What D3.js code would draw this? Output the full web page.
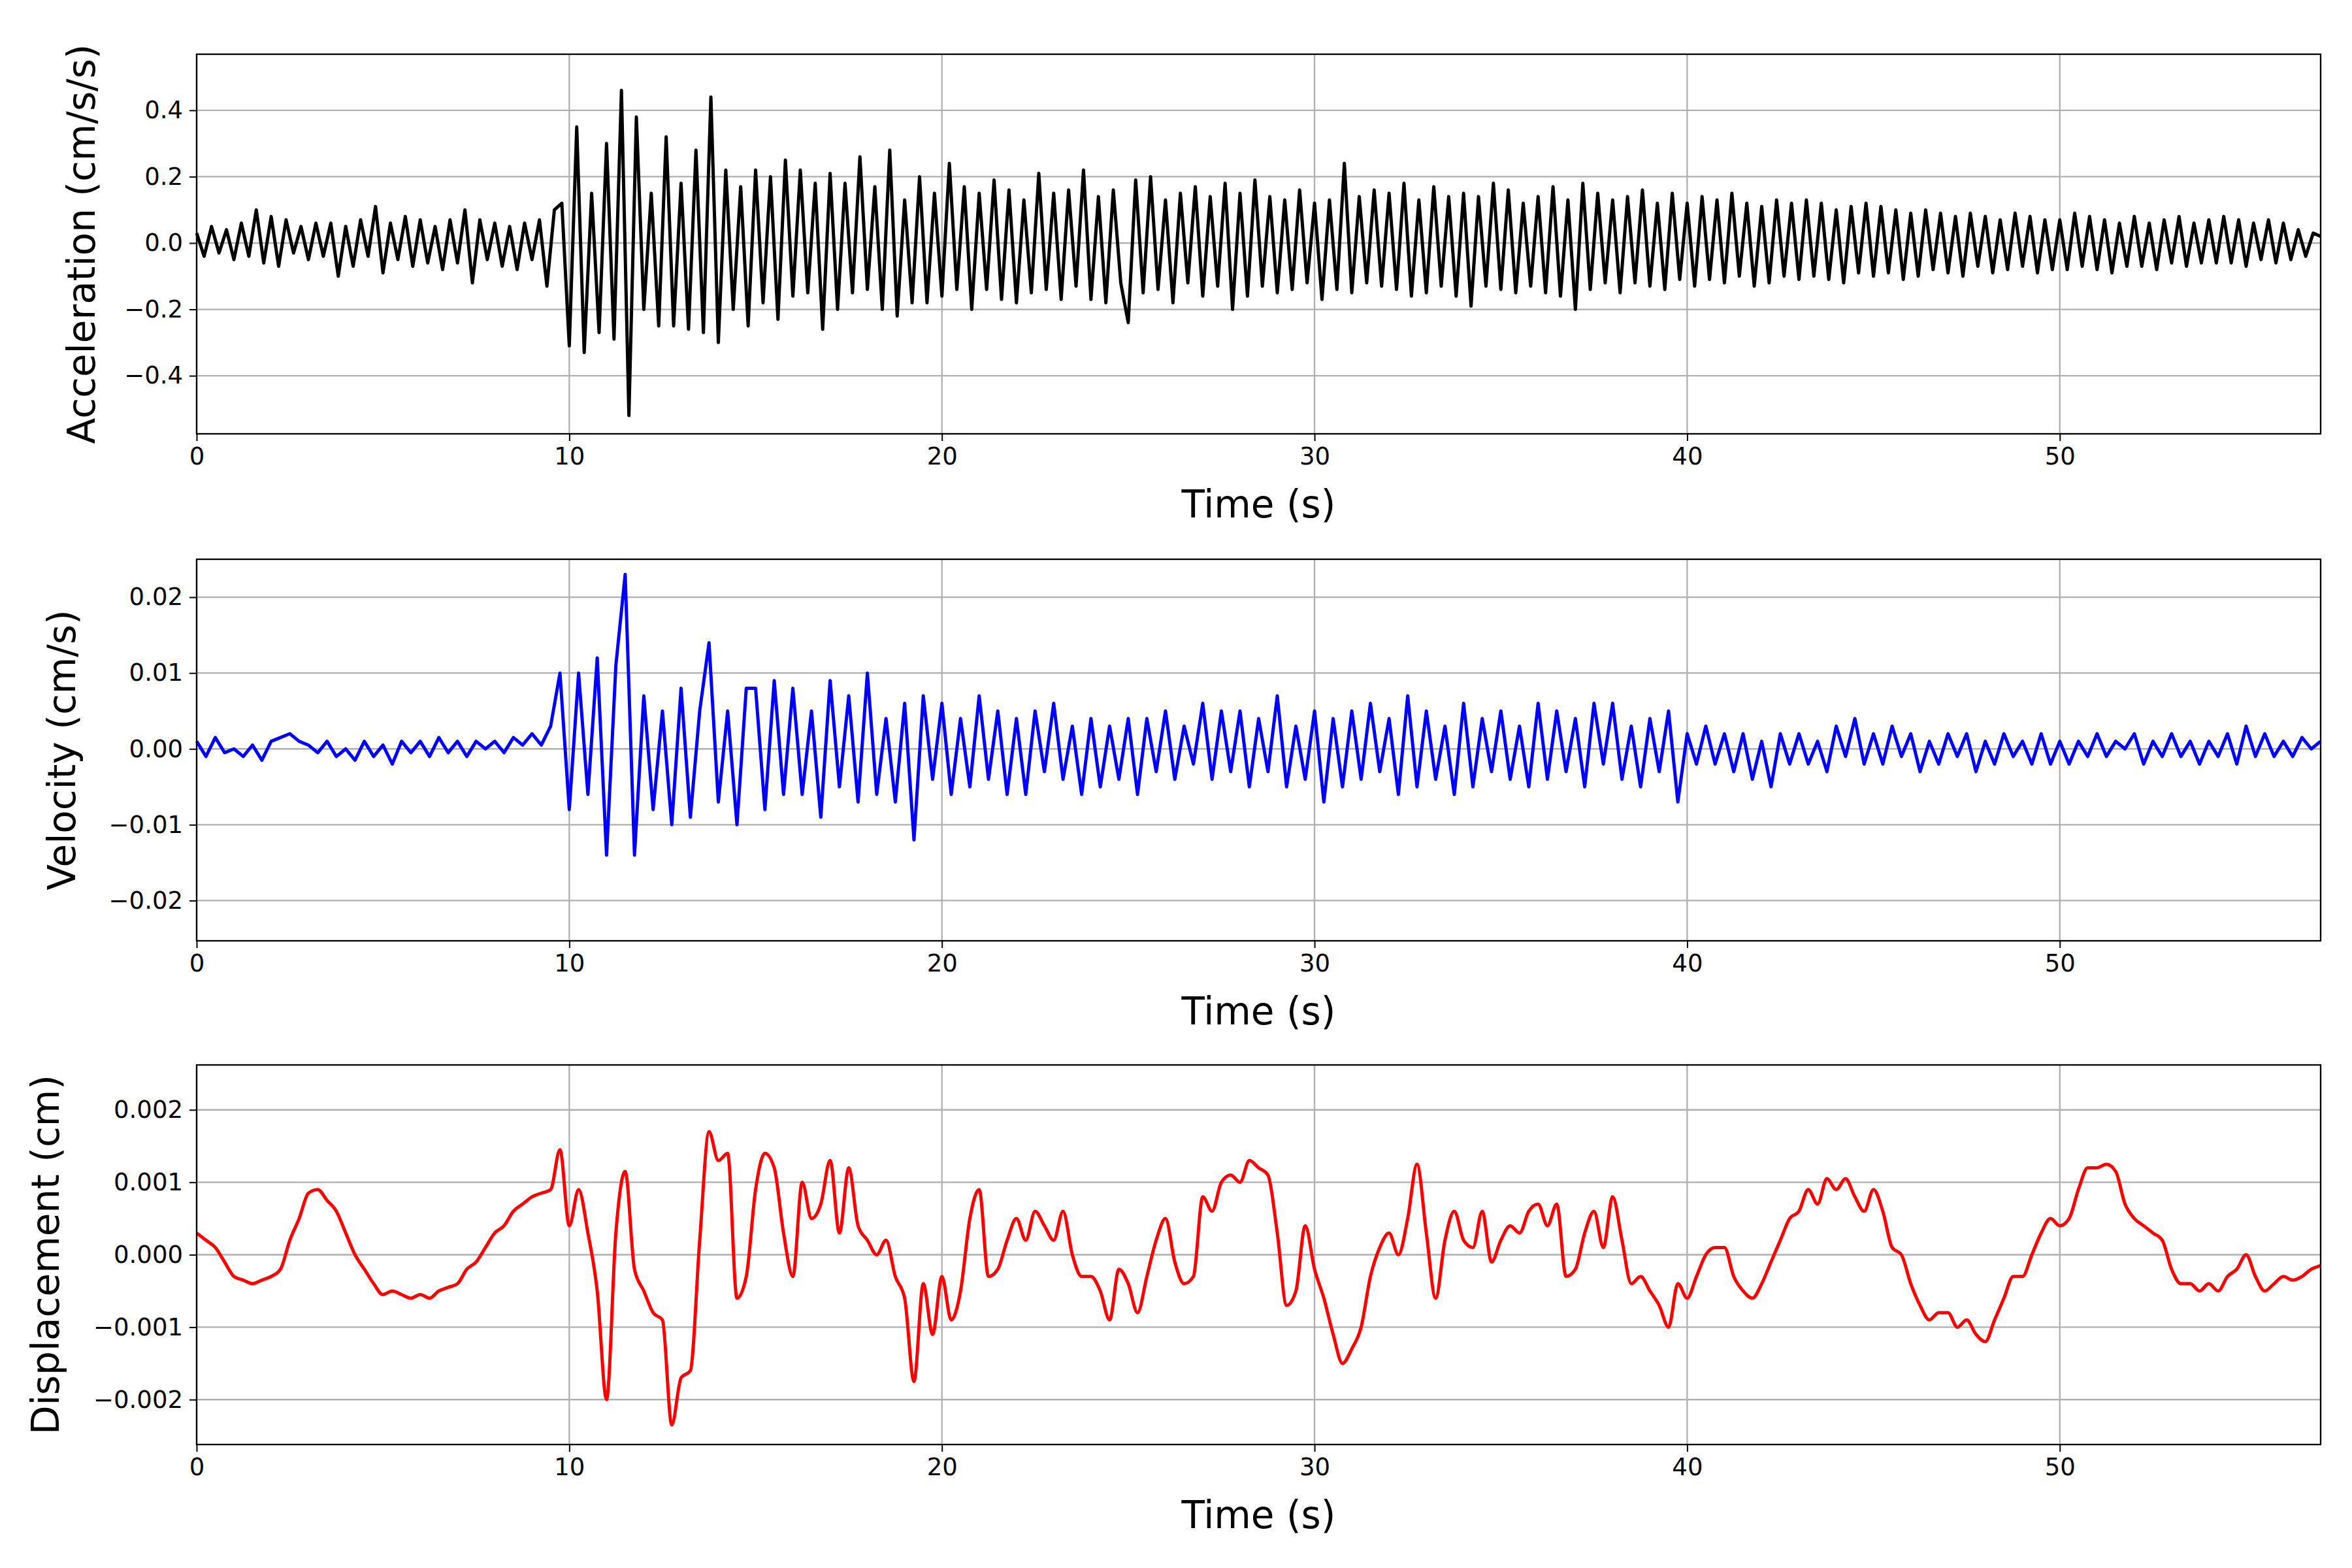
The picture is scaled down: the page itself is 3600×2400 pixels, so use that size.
<!DOCTYPE html>
<html>
<head>
<meta charset="utf-8">
<script src="https://cdn.jsdelivr.net/npm/d3@7"></script>
<style>
  body { margin: 0; background: #fff; }
  text { font-family: "DejaVu Sans", sans-serif; }
</style>
</head>
<body>
<svg id="chart" width="3600" height="2400"></svg>
<script>
// acceleration, cm/s/s, sampled every 0.2 s
var accStep = 0.2;
var accel = [
  0.03,-0.04,0.05,-0.03,0.04, -0.05,0.06,-0.04,0.1,-0.06, 0.08,-0.07,0.07,-0.03,0.05,
  -0.05,0.06,-0.04,0.06,-0.1, 0.05,-0.07,0.07,-0.04,0.11, -0.09,0.06,-0.05,0.08,-0.07,
  0.07,-0.06,0.05,-0.08,0.07, -0.06,0.1,-0.12,0.07,-0.05, 0.06,-0.07,0.05,-0.08,0.06,
  -0.05,0.07,-0.13,0.1,0.12, -0.31,0.35,-0.33,0.15,-0.27, 0.3,-0.29,0.46,-0.52,0.38,
  -0.2,0.15,-0.25,0.32,-0.25, 0.18,-0.26,0.28,-0.27,0.44, -0.3,0.22,-0.2,0.17,-0.25,
  0.22,-0.18,0.2,-0.23,0.25, -0.16,0.22,-0.15,0.18,-0.26, 0.21,-0.2,0.18,-0.15,0.26,
  -0.14,0.17,-0.2,0.28,-0.22, 0.13,-0.18,0.2,-0.18,0.15, -0.16,0.24,-0.14,0.17,-0.2,
  0.15,-0.14,0.19,-0.17,0.16, -0.18,0.13,-0.15,0.21,-0.14, 0.15,-0.17,0.16,-0.13,0.22,
  -0.17,0.14,-0.18,0.16,-0.12, -0.24,0.19,-0.15,0.2,-0.14, 0.13,-0.18,0.15,-0.12,0.17,
  -0.16,0.14,-0.13,0.18,-0.2, 0.15,-0.16,0.19,-0.13,0.14, -0.15,0.13,-0.14,0.16,-0.12,
  0.12,-0.17,0.13,-0.14,0.24, -0.15,0.14,-0.12,0.16,-0.13, 0.15,-0.14,0.18,-0.16,0.13,
  -0.15,0.17,-0.13,0.14,-0.16, 0.15,-0.19,0.14,-0.13,0.18, -0.14,0.16,-0.15,0.12,-0.13,
  0.14,-0.15,0.17,-0.16,0.13, -0.2,0.18,-0.14,0.15,-0.12, 0.13,-0.15,0.14,-0.12,0.16,
  -0.13,0.12,-0.14,0.15,-0.11, 0.12,-0.13,0.14,-0.11,0.13, -0.12,0.15,-0.1,0.12,-0.13,
  0.11,-0.12,0.13,-0.1,0.12, -0.11,0.13,-0.1,0.12,-0.11, 0.1,-0.12,0.11,-0.09,0.12,
  -0.1,0.11,-0.09,0.1,-0.11, 0.09,-0.1,0.1,-0.08,0.09, -0.09,0.08,-0.1,0.09,-0.07,
  0.08,-0.09,0.07,-0.08,0.09, -0.07,0.08,-0.09,0.07,-0.08, 0.07,-0.08,0.09,-0.07,0.08,
  -0.08,0.07,-0.09,0.06,-0.07, 0.08,-0.07,0.06,-0.08,0.07, -0.06,0.08,-0.07,0.06,-0.06,
  0.07,-0.06,0.08,-0.06,0.07, -0.07,0.06,-0.05,0.07,-0.06, 0.06,-0.05,0.04,-0.04,0.03,
  0.02
];

// velocity, cm/s, every 0.25 s
var velStep = 0.25;
var veloc = [
  0.001,-0.001,0.0015,-0.0005, 0,-0.001,0.0005,-0.0015, 0.001,0.0015,0.002,0.001,
  0.0005,-0.0005,0.001,-0.001, 0,-0.0015,0.001,-0.001, 0.0005,-0.002,0.001,-0.0005,
  0.001,-0.001,0.0015,-0.0005, 0.001,-0.001,0.001,0, 0.001,-0.0005,0.0015,0.0005,
  0.002,0.0005,0.003,0.01, -0.008,0.01,-0.006,0.012, -0.014,0.011,0.023,-0.014,
  0.007,-0.008,0.005,-0.01, 0.008,-0.009,0.005,0.014, -0.007,0.005,-0.01,0.008,
  0.008,-0.008,0.009,-0.006, 0.008,-0.006,0.005,-0.009, 0.009,-0.005,0.007,-0.007,
  0.01,-0.006,0.004,-0.007, 0.006,-0.012,0.007,-0.004, 0.006,-0.006,0.004,-0.005,
  0.007,-0.004,0.005,-0.006, 0.004,-0.006,0.005,-0.003, 0.006,-0.004,0.003,-0.006,
  0.004,-0.005,0.003,-0.004, 0.004,-0.006,0.004,-0.003, 0.005,-0.004,0.003,-0.002,
  0.006,-0.004,0.005,-0.003, 0.005,-0.005,0.004,-0.003, 0.007,-0.005,0.003,-0.004,
  0.005,-0.007,0.004,-0.005, 0.005,-0.004,0.006,-0.003, 0.004,-0.006,0.007,-0.005,
  0.005,-0.004,0.003,-0.006, 0.006,-0.005,0.004,-0.003, 0.005,-0.004,0.003,-0.005,
  0.006,-0.004,0.005,-0.003, 0.004,-0.005,0.006,-0.002, 0.006,-0.004,0.003,-0.005,
  0.004,-0.003,0.005,-0.007, 0.002,-0.002,0.003,-0.002, 0.002,-0.003,0.002,-0.004,
  0.001,-0.005,0.002,-0.002, 0.002,-0.002,0.001,-0.003, 0.003,-0.001,0.004,-0.002,
  0.002,-0.002,0.003,-0.001, 0.002,-0.003,0.001,-0.002, 0.002,-0.001,0.002,-0.003,
  0.001,-0.002,0.002,-0.001, 0.001,-0.002,0.002,-0.002, 0.001,-0.002,0.001,-0.001,
  0.002,-0.001,0.001,0, 0.002,-0.002,0.001,-0.001, 0.002,-0.001,0.001,-0.002,
  0.001,-0.001,0.002,-0.002, 0.003,-0.001,0.002,-0.001, 0.001,-0.001,0.0015,0,
  0.001
];

// displacement, in units of 0.001 cm, every 0.25 s
var dispStep = 0.25;
var dispMilli = [
  0.3,0.2,0.1,-0.1, -0.3,-0.35,-0.4,-0.35, -0.3,-0.2,0.2,0.5, 0.85,0.9,0.75,0.6,
  0.3,0,-0.2,-0.4, -0.55,-0.5,-0.55,-0.6, -0.55,-0.6,-0.5,-0.45, -0.4,-0.2,-0.1,0.1,
  0.3,0.4,0.6,0.7, 0.8,0.85,0.9,1.45, 0.4,0.9,0.3,-0.5, -2.0,0.3,1.15,-0.2,
  -0.5,-0.8,-0.9,-2.35, -1.7,-1.6,0.2,1.7, 1.3,1.4,-0.6,-0.3, 0.9,1.4,1.2,0.3,
  -0.3,1.0,0.5,0.7, 1.3,0.3,1.2,0.4, 0.2,0.0,0.2,-0.3, -0.6,-1.75,-0.4,-1.1,
  -0.3,-0.9,-0.5,0.5, 0.9,-0.3,-0.2,0.2, 0.5,0.2,0.6,0.4, 0.2,0.6,0.0,-0.3,
  -0.3,-0.5,-0.9,-0.2, -0.4,-0.8,-0.3,0.2, 0.5,-0.1,-0.4,-0.3, 0.8,0.6,1.0,1.1,
  1.0,1.3,1.2,1.1, 0.3,-0.7,-0.5,0.4, -0.2,-0.6,-1.1,-1.5, -1.3,-1.0,-0.3,0.1,
  0.3,0.0,0.5,1.25, 0.3,-0.6,0.2,0.6, 0.2,0.1,0.6,-0.1, 0.2,0.4,0.3,0.6,
  0.7,0.4,0.7,-0.3, -0.2,0.3,0.6,0.1, 0.8,0.2,-0.4,-0.3, -0.5,-0.7,-1.0,-0.4,
  -0.6,-0.3,0.0,0.1, 0.1,-0.3,-0.5,-0.6, -0.4,-0.1,0.2,0.5, 0.6,0.9,0.7,1.05,
  0.9,1.05,0.8,0.6, 0.9,0.6,0.1,0.0, -0.4,-0.7,-0.9,-0.8, -0.8,-1.0,-0.9,-1.1,
  -1.2,-0.9,-0.6,-0.3, -0.3,0.0,0.3,0.5, 0.4,0.5,0.9,1.2, 1.2,1.25,1.15,0.7,
  0.5,0.4,0.3,0.2, -0.2,-0.4,-0.4,-0.5, -0.4,-0.5,-0.3,-0.2, 0.0,-0.3,-0.5,-0.4,
  -0.3,-0.35,-0.3,-0.2, -0.15
];

var xTicks = [0, 10, 20, 30, 40, 50];
var accTicks = [-0.4, -0.2, 0.0, 0.2, 0.4];
var velTicks = [-0.02, -0.01, 0.00, 0.01, 0.02];
var dispTicks = [-0.002, -0.001, 0.000, 0.001, 0.002];

var svg = d3.select("#chart");
var left = 301, right = 3552;
var x = d3.scaleLinear().domain([0, 57]).range([left, right]);

var minus = function(s) { return s.replace("-", "\u2212"); };

var panel = function(opt) {
  var y = d3.scaleLinear().domain(opt.domain).range([opt.bottom, opt.top]);
  var g = svg.append("g");

  // grid
  g.selectAll(".gx").data(xTicks).enter().append("line")
    .attr("x1", d => x(d)).attr("x2", d => x(d))
    .attr("y1", opt.top).attr("y2", opt.bottom)
    .attr("stroke", "#b0b0b0").attr("stroke-width", 2.3);
  g.selectAll(".gy").data(opt.ticks).enter().append("line")
    .attr("x1", left).attr("x2", right)
    .attr("y1", d => y(d)).attr("y2", d => y(d))
    .attr("stroke", "#b0b0b0").attr("stroke-width", 2.3);

  // data line
  var pts = opt.data.map(function(v, i) { return [i * opt.step, v * opt.scale]; });
  g.append("path")
    .datum(pts)
    .attr("fill", "none")
    .attr("stroke", opt.color)
    .attr("stroke-width", 5)
    .attr("stroke-linejoin", "round")
    .attr("d", d3.line().x(d => x(d[0])).y(d => y(d[1])).curve(opt.curve));

  // axes
  var xa = g.append("g").attr("transform", "translate(0," + opt.bottom + ")")
    .call(d3.axisBottom(x).tickValues(xTicks).tickSize(11).tickPadding(10).tickFormat(d3.format("d")));
  var ya = g.append("g").attr("transform", "translate(" + left + ",0)")
    .call(d3.axisLeft(y).tickValues(opt.ticks).tickSize(11).tickPadding(10)
      .tickFormat(d => minus(d3.format(opt.fmt)(d))));
  [xa, ya].forEach(function(a) {
    a.select(".domain").remove();
    a.selectAll("line").attr("stroke", "#000").attr("stroke-width", 2);
    a.selectAll("text").attr("font-size", 37).attr("fill", "#000")
      .style("font-family", "DejaVu Sans");
  });

  g.append("rect")
    .attr("x", left).attr("y", opt.top)
    .attr("width", right - left).attr("height", opt.bottom - opt.top)
    .attr("fill", "none").attr("stroke", "#000").attr("stroke-width", 2.3);

  g.append("text")
    .attr("x", (left + right) / 2).attr("y", opt.bottom + 128)
    .attr("text-anchor", "middle").attr("font-size", 58)
    .text("Time (s)");
  g.append("text")
    .attr("transform", "translate(" + opt.labelX + "," + (opt.top + opt.bottom) / 2 + ") rotate(-90)")
    .attr("text-anchor", "middle").attr("font-size", 58)
    .text(opt.label);
};

panel({ top: 83, bottom: 664, domain: [-0.575, 0.569], ticks: accTicks, fmt: ".1f",
  data: accel, step: accStep, scale: 1, color: "#000000", curve: d3.curveLinear,
  label: "Acceleration (cm/s/s)", labelX: 145 });
panel({ top: 856, bottom: 1440, domain: [-0.0253, 0.025], ticks: velTicks, fmt: ".2f",
  data: veloc, step: velStep, scale: 1, color: "#0000ff", curve: d3.curveLinear,
  label: "Velocity (cm/s)", labelX: 115 });
panel({ top: 1630, bottom: 2211, domain: [-0.00262, 0.00262], ticks: dispTicks, fmt: ".3f",
  data: dispMilli, step: dispStep, scale: 0.001, color: "#ff0000", curve: d3.curveMonotoneX,
  label: "Displacement (cm)", labelX: 90 });
</script>
</body>
</html>
